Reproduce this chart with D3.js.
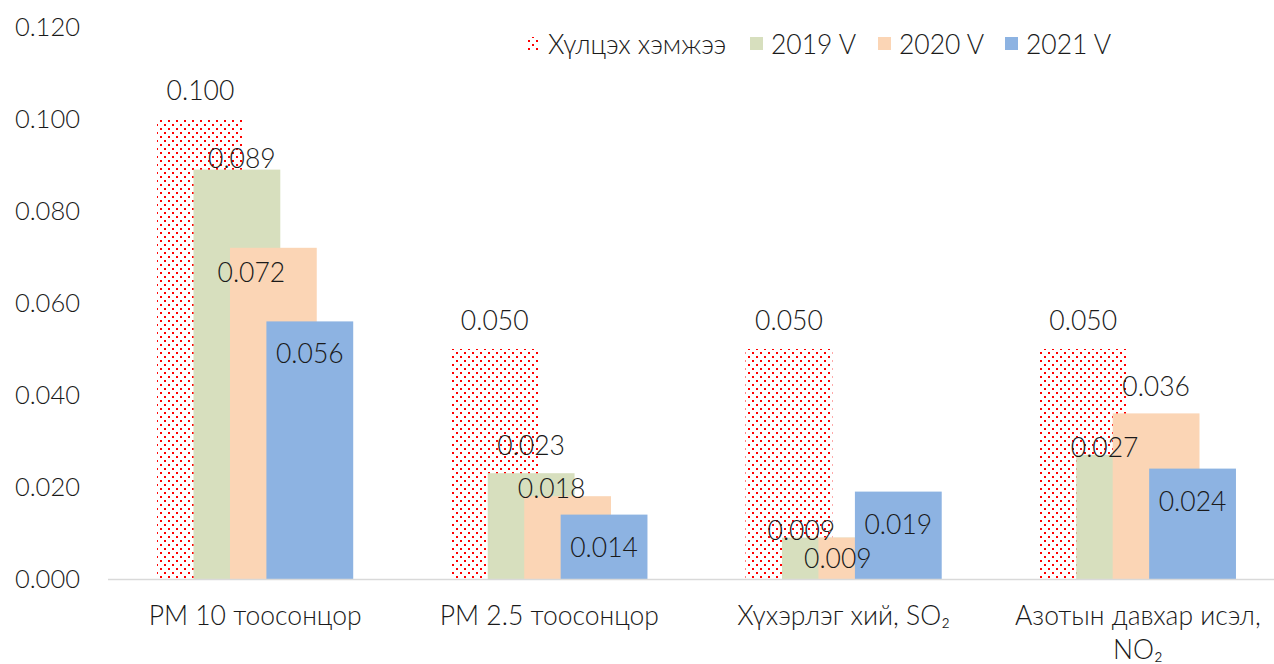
<!DOCTYPE html>
<html><head><meta charset="utf-8">
<script src="https://cdn.jsdelivr.net/npm/d3@7"></script>
<style>
body{margin:0;background:#fff;}
text{font-family:Lato,"Open Sans","Noto Sans",sans-serif;font-weight:300;fill:#1a1a1a;}
</style></head>
<body><svg id="c" width="1274" height="664"></svg>
<script>
const categories = ["PM 10 тоосонцор","PM 2.5 тоосонцор","Хүхэрлэг хий, SO₂","Азотын давхар исэл,\nNO₂"];
const seriesNames = ["Хүлцэх хэмжээ","2019 V","2020 V","2021 V"];
const limitValues = [0.100,0.050,0.050,0.050];
const v2019 = [0.089,0.023,0.009,0.027];
const v2020 = [0.072,0.018,0.009,0.036];
const v2021 = [0.056,0.014,0.019,0.024];
const yTicks = [0,0.02,0.04,0.06,0.08,0.10,0.12];

// label nudges (dx, dy relative to bar centre / bar top)
const labelNudge = [
  [[0,-29],[0,-29],[0,-29],[0,-29]],
  [[5,-12],[0,-28],[-24,-8],[-15,-8]],
  [[-22,24],[-16,-8],[-24,20],[0,-27]],
  [[0,32],[0,32],[0,32],[0,32]]
];
const colors = ["url(#dots)","#d7dfbe","#fbd5b5","#8db3e2"];
const series = [limitValues,v2019,v2020,v2021];

const svg = d3.select("#c");
const defs = svg.append("defs");
const pat = defs.append("pattern").attr("id","dots").attr("patternUnits","userSpaceOnUse")
  .attr("width",8).attr("height",8);
pat.append("rect").attr("width",8).attr("height",8).attr("fill","#fff");
pat.append("rect").attr("x",0).attr("y",0).attr("width",2).attr("height",2).attr("fill","#ff0000");
pat.append("rect").attr("x",4).attr("y",4).attr("width",2).attr("height",2).attr("fill","#ff0000");

const x = d3.scaleBand().domain(categories).range([108,1285]).padding(0);
const y = d3.scaleLinear().domain([0,0.12]).range([579,27]);
const bw = x.bandwidth();
const barW = bw*0.295;
const step = barW*0.42;
const groupW = barW + 3*step;

// y axis labels
const yAxis = d3.axisLeft(y).tickValues(yTicks).tickFormat(d3.format(".3f")).tickSize(0).tickPadding(0);
const ya = svg.append("g").attr("transform","translate(80,0)").call(yAxis);
ya.select(".domain").remove();
ya.selectAll("text").style("font-size","25.5px").style("font-family",null).attr("fill",null);

// bars
series.forEach((vals,si)=>{
  svg.append("g").selectAll("rect").data(vals).join("rect")
    .attr("x",(d,i)=>x(categories[i])+bw/2-groupW/2+si*step)
    .attr("y",d=>y(d))
    .attr("width",barW)
    .attr("height",d=>y(0)-y(d))
    .attr("fill",colors[si]);
});

// x axis line
svg.append("line").attr("x1",108).attr("x2",1274).attr("y1",y(0)+0.5).attr("y2",y(0)+0.5)
  .attr("stroke","#d9d9d9").attr("stroke-width",1.5);

// value labels
series.forEach((vals,si)=>{
  svg.append("g").selectAll("text").data(vals).join("text")
    .attr("x",(d,i)=>x(categories[i])+bw/2-groupW/2+si*step+barW/2+labelNudge[si][i][0])
    .attr("y",(d,i)=>y(d)+labelNudge[si][i][1])
    .attr("text-anchor","middle").attr("dominant-baseline","central")
    .style("font-size","26.5px")
    .text(d=>d3.format(".3f")(d));
});

// category labels
categories.forEach(c=>{
  const lines = c.split("\n");
  const t = svg.append("text").attr("x",x(c)+bw/2).attr("y",615)
    .attr("text-anchor","middle").attr("dominant-baseline","central").style("font-size","26.5px");
  lines.forEach((l,k)=>t.append("tspan").attr("x",x(c)+bw/2).attr("dy",k===0?0:34).text(l));
});

// legend
const legendX = [527,750,878,1005];
const lg = svg.append("g");
seriesNames.forEach((n,i)=>{
  lg.append("rect").attr("x",legendX[i]).attr("y",37).attr("width",13).attr("height",13).attr("fill",colors[i]);
  lg.append("text").attr("x",legendX[i]+21).attr("y",44).attr("dominant-baseline","central")
    .style("font-size","26.5px").text(n);
});
</script></body></html>
